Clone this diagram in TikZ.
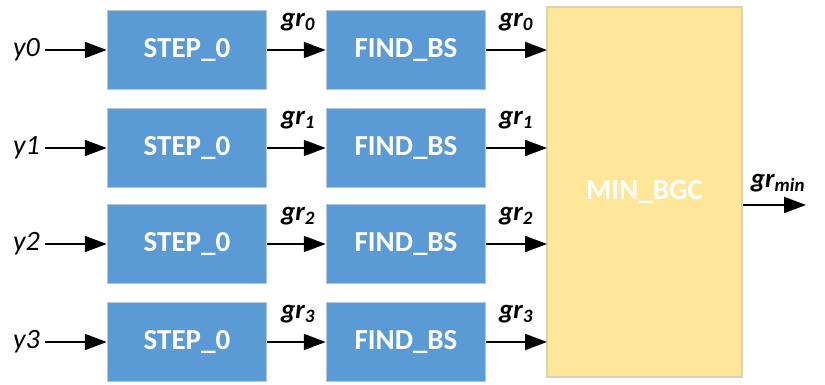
\documentclass[tikz,border=0pt]{standalone}
\usepackage{fontspec}
\setmainfont{Carlito}
\usetikzlibrary{arrows.meta}
\definecolor{boxblue}{HTML}{5B9BD5}
\definecolor{boxyellow}{HTML}{FFE699}
\definecolor{boxedge}{HTML}{B4C7DC}
\definecolor{yedge}{HTML}{D9D2B8}
\begin{document}
\begin{tikzpicture}[x=1pt,y=-1pt,
  blk/.style={draw=boxedge,line width=1.5pt,fill=boxblue,text=white,font=\bfseries\fontsize{29}{34}\selectfont,minimum width=159pt,minimum height=79pt,inner sep=0pt,anchor=center},
  minblk/.style={draw=yedge,line width=1.5pt,fill=boxyellow,text=white,font=\bfseries\fontsize{29}{34}\selectfont,minimum width=195pt,minimum height=370pt,inner sep=0pt},
  arr/.style={line width=2.2pt,-{Triangle[length=22pt,width=16pt]}},
  inlab/.style={font=\itshape\fontsize{28}{32}\selectfont,inner sep=0pt},
  grlab/.style={font=\bfseries\itshape\fontsize{27}{32}\selectfont,inner sep=0pt}
]
\useasboundingbox (0,0) rectangle (825,385);
\node[minblk] (m) at (644.5,192) {MIN\_BGC};
\foreach \i/\y in {0/50,1/148,2/244,3/342}{
  \node[blk] (s\i) at (187,\y) {STEP\_0};
  \node[blk] (f\i) at (406,\y) {FIND\_BS};
  \node[inlab,anchor=east] (y\i) at (40,\y) {y\i};
  \coordinate (e\i) at (547,\y);
  \draw[arr] (y\i.east) ++(5,0) -- (s\i.west);
  \draw[arr] (s\i.east) -- (f\i.west);
  \draw[arr] (f\i.east) -- (e\i);
  \node[grlab] (ga\i) at (298,\y-28) {gr\textsubscript{\i}};
  \node[grlab] (gb\i) at (516,\y-28) {gr\textsubscript{\i}};
}
\coordinate (out) at (806,205);
\draw[arr] (m.east |- out) -- (out);
\node[grlab] (gm) at (778,183) {gr\textsubscript{min}};
\end{tikzpicture}
\end{document}
